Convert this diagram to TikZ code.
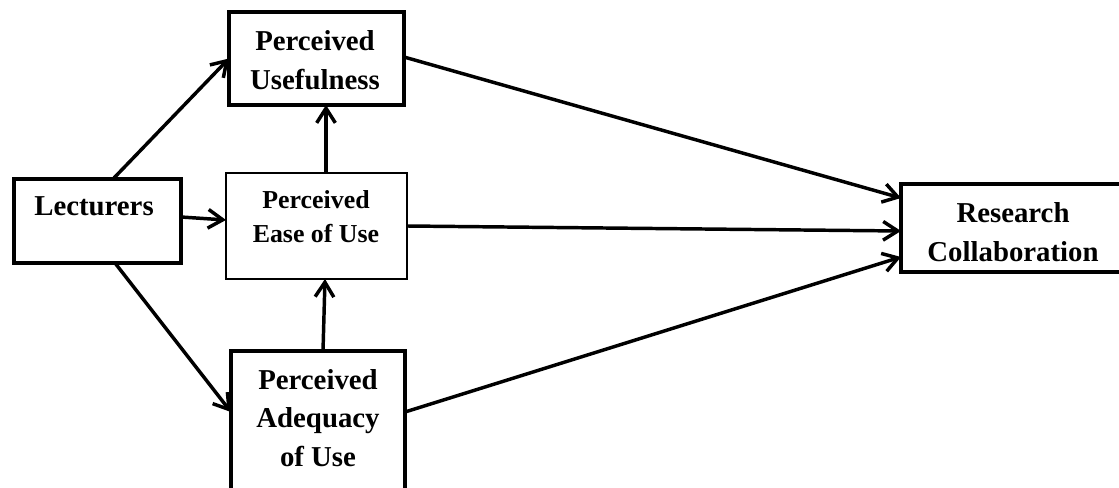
\documentclass[tikz,border=0pt]{standalone}
\usepackage{fontspec}
\setmainfont{Liberation Serif}
\usetikzlibrary{arrows.meta,calc}
\begin{document}
\begin{tikzpicture}[x=0.75pt,y=-0.75pt,
  thickbox/.style={draw,line width=3.2pt,inner sep=0pt,outer sep=0pt},
  thinbox/.style={draw,line width=1.5pt,inner sep=0pt,outer sep=0pt},
  lbl/.style={align=center,font=\bfseries\fontsize{21.6}{29}\selectfont,inner sep=0pt},
  lblsmall/.style={align=center,font=\bfseries\fontsize{19.4}{25.5}\selectfont,inner sep=0pt},
  conn/.style={line width=2.6pt,-{Straight Barb[length=11pt,width=14pt,line width=2.6pt]}}]
\useasboundingbox (0,0) rectangle (1119,488);
\clip (0,0) rectangle (1119,488);
% boxes
\node[thickbox,minimum width=167*0.75pt,minimum height=84*0.75pt] (lec) at (97.5,221) {};
\node[thickbox,minimum width=175*0.75pt,minimum height=93*0.75pt] (pu) at (316.5,58.5) {};
\node[thinbox,minimum width=181*0.75pt,minimum height=106*0.75pt] (peou) at (316.5,226) {};
\node[thickbox,minimum width=174*0.75pt,minimum height=147*0.75pt] (pau) at (318,424.5) {};
\node[thickbox,minimum width=224*0.75pt,minimum height=88*0.75pt] (rc) at (1013,228) {};
% labels
\node[lbl] (lecT) at (94,206) {Lecturers};
\node[lbl] (puT) at (315,60) {Perceived\\Usefulness};
\node[lblsmall] (peouT) at (316,217) {Perceived\\Ease of Use};
\node[lbl] (pauT) at (318,418) {Perceived\\Adequacy\\of Use};
\node[lbl] (rcT) at (1013,232) {Research\\Collaboration};
% connectors
\draw[conn] ($(lec.north)+(15.5,0)$) -- (pu.west);
\draw[conn] ($(lec.east)+(0,-4)$) -- ($(peou.west)+(0,-6)$);
\draw[conn] ($(lec.south)+(17.5,0)$) -- ($(pau.west)+(0,-12.5)$);
\draw[conn] ($(peou.north)+(9.5,0)$) -- ($(pu.south)+(9.5,0)$);
\draw[conn] ($(pau.north)+(5,0)$) -- ($(peou.south)+(8.5,0)$);
\draw[conn] ($(pu.east)+(0,-1.5)$) -- ($(rc.west)+(0,-30)$);
\draw[conn] (peou.east) -- ($(rc.west)+(0,3)$);
\draw[conn] ($(pau.east)+(0,-12.5)$) -- ($(rc.west)+(0,29)$);
\end{tikzpicture}
\end{document}
